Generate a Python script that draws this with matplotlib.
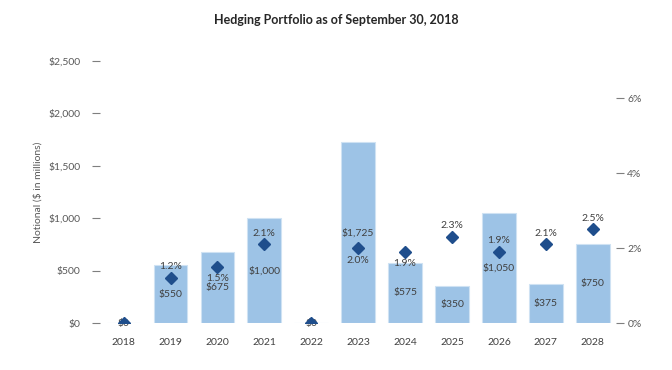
import matplotlib
matplotlib.use("Agg")
import matplotlib.pyplot as plt
from matplotlib.ticker import FuncFormatter

years = ["2018", "2019", "2020", "2021", "2022", "2023", "2024", "2025", "2026", "2027", "2028"]
notional = [0, 550, 675, 1000, 0, 1725, 575, 350, 1050, 375, 750]
rates = [0.0, 1.2, 1.5, 2.1, 0.0, 2.0, 1.9, 2.3, 1.9, 2.1, 2.5]
# placement of percent label relative to marker: +1 above, -1 below, 0 none
rate_label_pos = [0, 1, -1, 1, 0, -1, -1, 1, 1, 1, 1]

plt.rcParams['font.family'] = ['Lato', 'DejaVu Sans']
text_color = '#404040'
tick_color = '#595959'

fig = plt.figure(figsize=(6.72, 3.70), dpi=100)
ax = fig.add_axes([0.149, 0.127, 0.768, 0.708])
ax2 = ax.twinx()

x = list(range(len(years)))
ax.bar(x, notional, width=0.72, color='#9dc3e6', edgecolor='#cfe2f3', linewidth=0.8, zorder=2)
ax.set_xlim(-0.5, len(years) - 0.5)
ax.set_ylim(0, 2500)
ax.set_yticks([0, 500, 1000, 1500, 2000, 2500])
ax.yaxis.set_major_formatter(FuncFormatter(lambda v, p: f"${v:,.0f}"))
ax.set_xticks(x)
ax.set_xticklabels(years)
ax.tick_params(axis='x', length=0, labelsize=7.5, colors=text_color, pad=11)
ax.tick_params(axis='y', length=6, width=0.8, color='#7f7f7f', labelsize=7.5, labelcolor=tick_color, pad=8)
ax.set_ylabel("Notional ($ in millions)", fontsize=7.5, color=tick_color, labelpad=4)
for s in ax.spines.values():
    s.set_visible(False)

ax2.set_ylim(0, 7)
ax2.set_yticks([0, 2, 4, 6])
ax2.yaxis.set_major_formatter(FuncFormatter(lambda v, p: f"{v:.0f}%"))
ax2.tick_params(axis='y', length=6, width=0.8, color='#7f7f7f', labelsize=7.5, labelcolor=tick_color, pad=2)
for s in ax2.spines.values():
    s.set_visible(False)
ax2.plot(x, rates, linestyle='none', marker='D', markersize=6.5, color='#1f4e8c', zorder=5)

# bar value labels at bar center
for xi, v in zip(x, notional):
    ax.text(xi, v / 2, f"${v:,.0f}", ha='center', va='center', fontsize=7.5, color=text_color, zorder=6)

for xi, r, pos in zip(x, rates, rate_label_pos):
    if pos == 0:
        continue
    off = 0.30 if pos > 0 else -0.32
    ax2.text(xi, r + off, f"{r:.1f}%", ha='center', va='center', fontsize=7.5, color=text_color, zorder=6)

fig.suptitle("Hedging Portfolio as of September 30, 2018", fontsize=9, fontweight='bold',
             color='#262626', y=0.962)

fig.savefig("out.png", dpi=100)
